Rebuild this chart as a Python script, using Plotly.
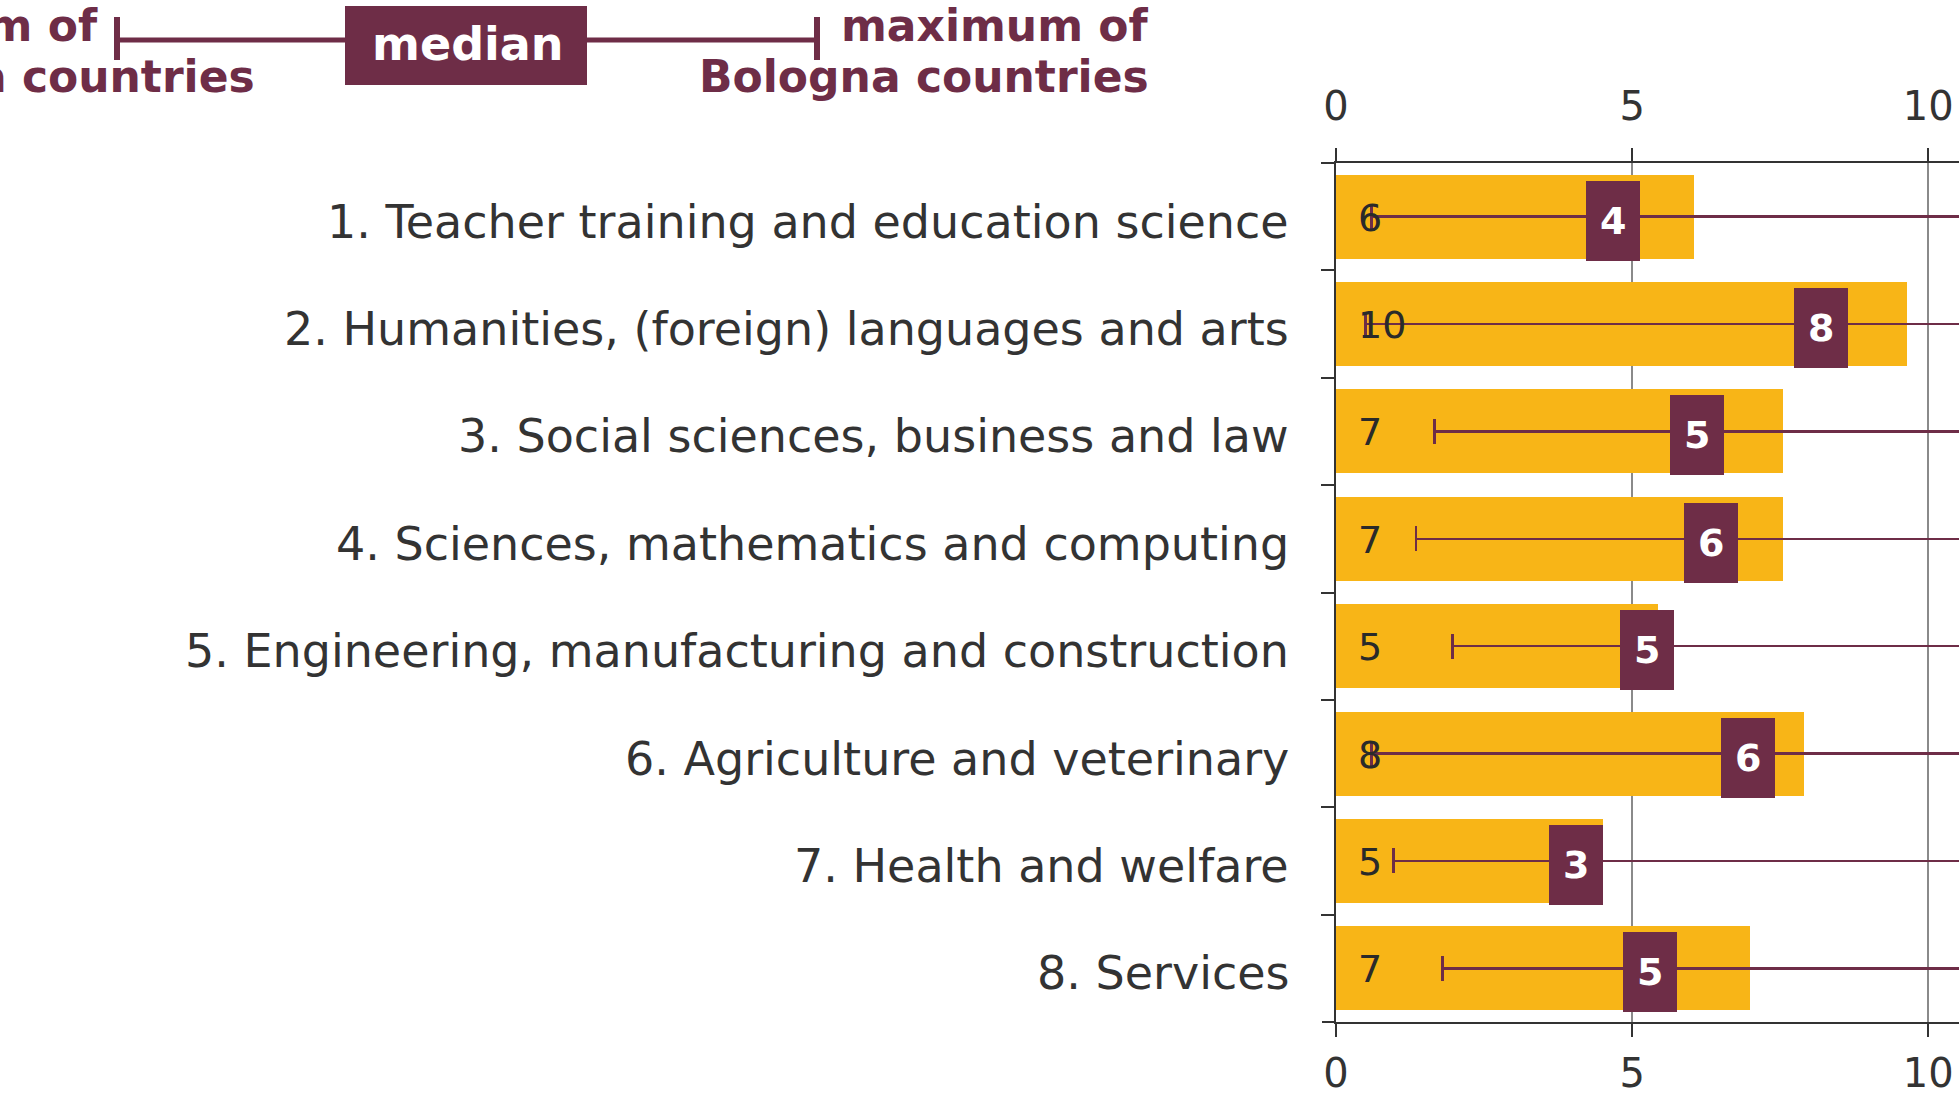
import plotly.graph_objects as go

# ---------------- data ----------------
categories = [
    "1. Teacher training and education science",
    "2. Humanities, (foreign) languages and arts",
    "3. Social sciences, business and law",
    "4. Sciences, mathematics and computing",
    "5. Engineering, manufacturing and construction",
    "6. Agriculture and veterinary",
    "7. Health and welfare",
    "8. Services",
]
bar_values = [6.05, 9.65, 7.54, 7.54, 5.44, 7.90, 4.51, 6.99]
bar_labels = ["6", "10", "7", "7", "5", "8", "5", "7"]
median_values = [4.68, 8.19, 6.10, 6.34, 5.25, 6.96, 4.06, 5.31]
median_labels = ["4", "8", "5", "6", "5", "6", "3", "5"]
minimum_values = [0.60, 0.50, 1.66, 1.35, 1.97, 0.60, 0.97, 1.80]
maximum_values = [12.0, 12.0, 12.0, 12.0, 12.0, 12.0, 12.0, 12.0]
x_ticks = [0, 5, 10]

# ---------------- style ----------------
W, H = 1959, 1096
L, T, B = 1336, 163, 74
X_MAX = 10.52
YELLOW = "#F8B517"
MAROON = "#6E2D47"
DARK = "#333333"
GRID = "#8a8a8a"
FONT = "DejaVu Sans"

plot_w = W - L
plot_h = H - T - B
n = len(categories)
px_per_unit = plot_w / X_MAX
cat_px = plot_h / n

def unit(px):
    return px / px_per_unit

def cat(px):
    return px / cat_px

def xp(px):
    return (px - L) / plot_w

def yp(py):
    return (H - B - py) / plot_h

fig = go.Figure()

# yellow bars
fig.add_trace(go.Bar(
    y=categories, x=bar_values, orientation="h",
    marker=dict(color=YELLOW, line=dict(width=0)),
    width=cat(84), hoverinfo="skip", showlegend=False,
))

# whisker lines (min -> max)
fig.add_trace(go.Bar(
    y=categories,
    x=[mx - mn for mn, mx in zip(minimum_values, maximum_values)],
    base=minimum_values, orientation="h",
    marker=dict(color=MAROON, line=dict(width=0)),
    width=cat(2.4), hoverinfo="skip", showlegend=False,
))

# minimum caps
cap_w = unit(2.6)
fig.add_trace(go.Bar(
    y=categories, x=[cap_w] * n,
    base=[mn - cap_w / 2 for mn in minimum_values], orientation="h",
    marker=dict(color=MAROON, line=dict(width=0)),
    width=cat(25), hoverinfo="skip", showlegend=False,
))

# median boxes
box_w = unit(54)
box_h = cat(80)
fig.add_trace(go.Bar(
    y=categories, x=[box_w] * n,
    base=[m - box_w / 2 for m in median_values], orientation="h",
    marker=dict(color=MAROON, line=dict(width=0)),
    width=box_h, offset=-box_h / 2 + cat(4),
    hoverinfo="skip", showlegend=False,
))

# dummy trace for top axis
fig.add_trace(go.Scatter(
    x=[0], y=[categories[0]], xaxis="x2", mode="markers",
    marker=dict(opacity=0), hoverinfo="skip", showlegend=False,
))

annotations = []
# category labels (left of the axis)
for c in categories:
    annotations.append(dict(
        x=xp(1291), y=c, xref="paper", yref="y", text=c, showarrow=False,
        xanchor="right", yanchor="middle", yshift=-5,
        font=dict(family=FONT, size=46, color=DARK),
    ))
for c, lab in zip(categories, bar_labels):
    annotations.append(dict(
        x=unit(20), y=c, xref="x", yref="y", text=lab, showarrow=False,
        xanchor="left", yanchor="middle", yshift=-1,
        font=dict(family=FONT, size=38, color="#2a2a2a"),
    ))
for c, m, lab in zip(categories, median_values, median_labels):
    annotations.append(dict(
        x=m, y=c, xref="x", yref="y", text="<b>" + lab + "</b>", showarrow=False,
        xanchor="center", yanchor="middle", yshift=-4,
        font=dict(family=FONT, size=38, color="white"),
    ))

# legend key at top
LEG_Y = 40
LEG_FONT = dict(family=FONT, size=44, color=MAROON)
annotations.append(dict(
    x=xp(468), y=yp(44), xref="paper", yref="paper", text="<b>median</b>",
    showarrow=False, xanchor="center", yanchor="middle",
    font=dict(family=FONT, size=46, color="white"),
))
legend_lines = [
    ("<b>maximum of</b>", 1151, 26),
    ("<b>Bologna countries</b>", 1151, 76),
    ("<b>minimum of</b>", 100, 26),
    ("<b>Bologna countries</b>", 257, 76),
]
for txt, xr, yc in legend_lines:
    annotations.append(dict(
        x=xp(xr), y=yp(yc), xref="paper", yref="paper", text=txt,
        showarrow=False, xanchor="right", yanchor="middle",
        font=LEG_FONT,
    ))

shapes = [
    # legend whisker line and caps
    dict(type="line", xref="paper", yref="paper", x0=xp(116), x1=xp(818),
         y0=yp(LEG_Y), y1=yp(LEG_Y), line=dict(color=MAROON, width=5)),
    dict(type="line", xref="paper", yref="paper", x0=xp(117), x1=xp(117),
         y0=yp(17), y1=yp(60), line=dict(color=MAROON, width=6)),
    dict(type="line", xref="paper", yref="paper", x0=xp(817), x1=xp(817),
         y0=yp(17), y1=yp(60), line=dict(color=MAROON, width=6)),
    dict(type="rect", xref="paper", yref="paper", x0=xp(345), x1=xp(587),
         y0=yp(85), y1=yp(6), line=dict(width=0), fillcolor=MAROON),
    # axis line extensions over the outside category ticks
    dict(type="line", xref="paper", yref="paper", x0=xp(L - 14), x1=0,
         y0=1, y1=1, line=dict(color=DARK, width=2)),
    dict(type="line", xref="paper", yref="paper", x0=xp(L - 14), x1=0,
         y0=0, y1=0, line=dict(color=DARK, width=2)),
]

axis_common = dict(
    range=[0, X_MAX], tickvals=x_ticks, ticktext=[str(v) for v in x_ticks],
    ticks="outside", ticklen=13, tickwidth=2, tickcolor=DARK,
    showline=True, linecolor=DARK, linewidth=2, zeroline=False,
    tickfont=dict(family=FONT, size=40, color=DARK),
    fixedrange=True, automargin=False,
)

fig.update_layout(
    width=W, height=H,
    margin=dict(l=L, r=0, t=T, b=B, pad=0),
    paper_bgcolor="white", plot_bgcolor="white",
    barmode="overlay", bargap=0,
    showlegend=False,
    xaxis=dict(**axis_common, side="bottom", showgrid=True,
               gridcolor=GRID, gridwidth=1.5, ticklabelstandoff=2),
    xaxis2=dict(**axis_common, side="top", overlaying="x", matches="x",
                showgrid=False, ticklabelstandoff=12),
    yaxis=dict(
        type="category", categoryorder="array", categoryarray=categories,
        autorange="reversed", tickson="boundaries",
        ticks="outside", ticklen=13, tickwidth=2, tickcolor=DARK,
        showline=True, linecolor=DARK, linewidth=2, showgrid=False,
        zeroline=False, showticklabels=False, automargin=False,
        fixedrange=True,
    ),
    annotations=annotations,
    shapes=shapes,
)

fig.write_html(
    "out.html",
    config={"displayModeBar": False},
    post_script="document.body.style.margin='0';document.body.style.overflow='hidden';",
)
